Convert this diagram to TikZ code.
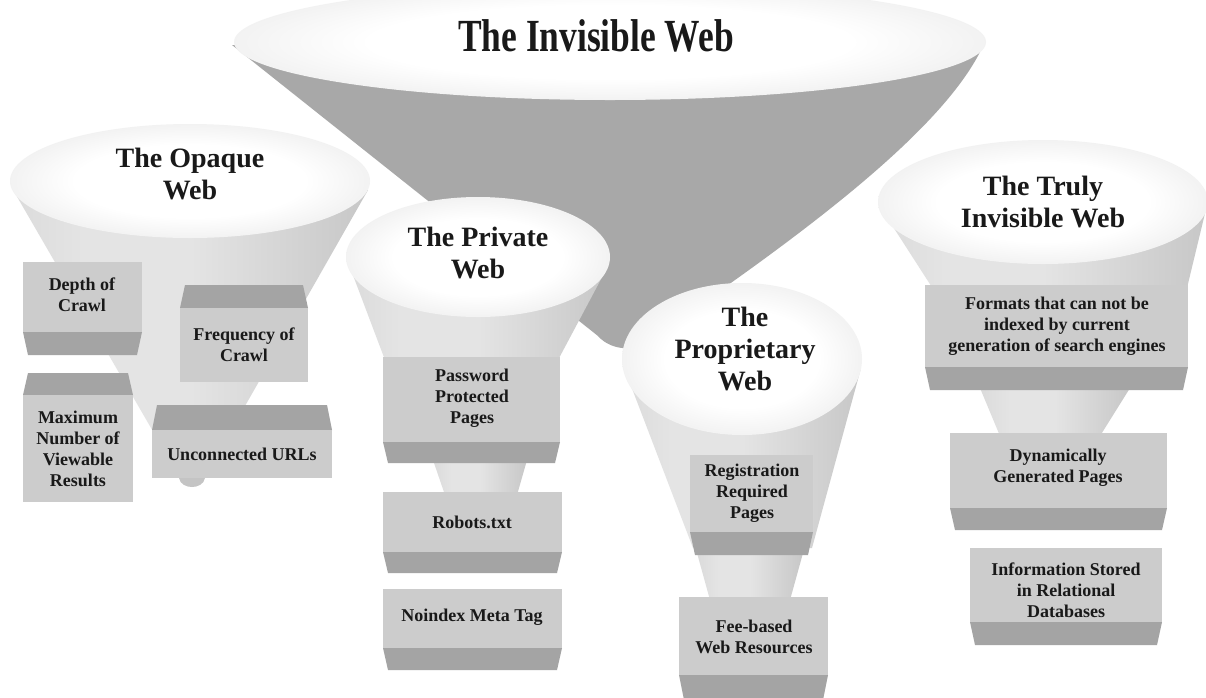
\documentclass[tikz,border=0pt]{standalone}
\usepackage{fontspec}
\setmainfont{Liberation Serif}
\usetikzlibrary{calc}
\definecolor{bigbody}{RGB}{168,168,168}
\definecolor{faceC}{RGB}{204,204,204}
\definecolor{stripC}{RGB}{164,164,164}
\definecolor{txt}{RGB}{25,25,25}
\definecolor{rimA}{RGB}{224,224,224}
\definecolor{rimB}{RGB}{190,190,190}
\definecolor{coneL}{RGB}{196,196,196}
\definecolor{coneM}{RGB}{228,228,228}
\definecolor{coneR}{RGB}{170,170,170}
\pgfdeclareradialshading{topsh}{\pgfpoint{0bp}{0bp}}{color(0bp)=(white); color(16bp)=(white); color(38bp)=(rimA); color(50bp)=(rimB)}
\pgfdeclarehorizontalshading{conesh}{100bp}{color(0bp)=(coneL); color(35bp)=(coneM); color(50bp)=(coneM); color(100bp)=(coneR)}
\newcommand{\stripbot}[4]{\fill[boxstrip] (#1,#3) -- (#2,#3) -- ({#2-5},#4) -- ({#1+5},#4) -- cycle;}
\newcommand{\striptop}[4]{\fill[boxstrip] ({#1+5},#3) -- ({#2-5},#3) -- (#2,#4) -- (#1,#4) -- cycle;}
\begin{document}
\begin{tikzpicture}[x=1pt,y=-1pt,
  heading/.style={font=\bfseries\fontsize{28}{32}\selectfont, align=center, text=txt, inner sep=0pt},
  titletext/.style={font=\bfseries\fontsize{46}{50}\selectfont, text=txt, inner sep=0pt, xscale=0.77},
  boxtext/.style={font=\bfseries\fontsize{18}{21}\selectfont, align=center, text=txt, inner sep=0pt},
  rimtop/.style={shading=topsh},
  conebody/.style={shading=conesh},
  boxface/.style={fill=faceC},
  boxstrip/.style={fill=stripC}]
\useasboundingbox (0,0) rectangle (1206,697);
\fill[white] (0,0) rectangle (1206,697);

% big funnel
\fill[bigbody] (232,45) -- (598,336) .. controls (612,352) and (640,352) .. (652,338)
  .. controls (780,250) and (935,140) .. (980,52) -- cycle;
\shade[rimtop] (610,42) ellipse [x radius=376, y radius=58];
\node[titletext] (tInv) at (596,36) {The Invisible Web};

% opaque funnel
\shade[conebody] (12,188) -- (180,478) -- (204,478) -- (368,190) -- cycle;
\fill[coneL] (179,478) .. controls (181,490) and (203,490) .. (205,478) -- cycle;
\shade[rimtop] (190,181) ellipse [x radius=180, y radius=57];
\node[heading] (hOpq) at (190,174) {The Opaque\\Web};

\fill[boxface] (23,262) rectangle (142,332);
\stripbot{23}{142}{332}{355}
\node[boxtext] (bDepth) at (82,295) {Depth of\\Crawl};

\striptop{180}{308}{285}{308}
\fill[boxface] (180,308) rectangle (308,382);
\node[boxtext] (bFreq) at (244,345) {Frequency of\\Crawl};

\striptop{23}{133}{373}{395}
\fill[boxface] (23,395) rectangle (133,502);
\node[boxtext] (bMax) at (78,449) {Maximum\\Number of\\Viewable\\Results};

\striptop{152}{332}{405}{430}
\fill[boxface] (152,430) rectangle (332,478);
\node[boxtext] (bUnc) at (242,454) {Unconnected URLs};

% private funnel
\shade[conebody] (348,262) -- (385,360) -- (558,360) -- (608,266) -- cycle;
\shade[conebody] (433,460) -- (445,495) -- (517,495) -- (527,460) -- cycle;
\shade[rimtop] (478,257) ellipse [x radius=132, y radius=60];
\node[heading] (hPriv) at (478,253) {The Private\\Web};

\fill[boxface] (383,357) rectangle (560,442);
\stripbot{383}{560}{442}{463}
\node[boxtext] (bPass) at (472,398) {Password\\Protected\\Pages};

\fill[boxface] (383,492) rectangle (562,552);
\stripbot{383}{562}{552}{573}
\node[boxtext] (bRob) at (472,522) {Robots.txt};

\fill[boxface] (383,589) rectangle (562,648);
\stripbot{383}{562}{648}{670}
\node[boxtext] (bNoi) at (472,617) {Noindex Meta Tag};

% proprietary funnel
\shade[conebody] (623,365) -- (693,548) -- (812,548) -- (861,368) -- cycle;
\shade[conebody] (697,553) -- (710,600) -- (790,600) -- (803,553) -- cycle;
\shade[rimtop] (742,359) ellipse [x radius=120, y radius=76];
\node[heading] (hProp) at (745,349) {The\\Proprietary\\Web};

\fill[boxface] (690,455) rectangle (813,532);
\stripbot{690}{813}{532}{555}
\node[boxtext] (bReg) at (752,493) {Registration\\Required\\Pages};

\fill[boxface] (679,597) rectangle (828,675);
\stripbot{679}{828}{675}{700}
\node[boxtext] (bFee) at (754,637) {Fee-based\\Web Resources};

% truly invisible funnel
\shade[conebody] (879,205) -- (935,292) -- (1186,292) -- (1207,205) -- cycle;
\shade[conebody] (980,388) -- (1000,436) -- (1100,436) -- (1130,388) -- cycle;
\shade[rimtop] (1043,202) ellipse [x radius=165, y radius=62];
\node[heading] (hTruly) at (1043,202) {The Truly\\Invisible Web};

\fill[boxface] (925,285) rectangle (1188,367);
\stripbot{925}{1188}{367}{390}
\node[boxtext] (bForm) at (1057,326) {Formats that can not be\\indexed by current\\generation of search engines};

\fill[boxface] (950,433) rectangle (1167,508);
\stripbot{950}{1167}{508}{530}
\node[boxtext] (bDyn) at (1058,468) {Dynamically\\Generated Pages};

\fill[boxface] (970,548) rectangle (1162,622);
\stripbot{970}{1162}{622}{645}
\node[boxtext] (bInfo) at (1066,590) {Information Stored\\in Relational\\Databases};
\end{tikzpicture}
\end{document}
